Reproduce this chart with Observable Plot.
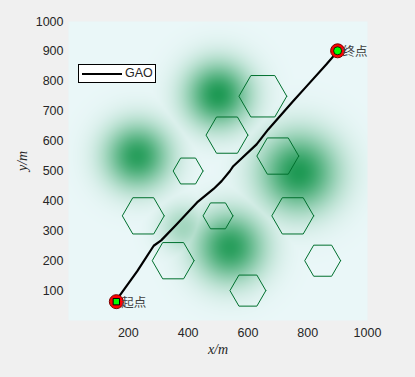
<!DOCTYPE html>
<html>
<head>
<meta charset="utf-8">
<script src="https://cdn.jsdelivr.net/npm/d3@7"></script>
<script src="https://cdn.jsdelivr.net/npm/@observablehq/plot@0.6"></script>
<style>
  html, body { margin: 0; padding: 0; background: #f0f0f0; }
  #wrap { position: relative; width: 415px; height: 377px; }
  #legend { position: absolute; left: 78px; top: 64px; width: 78px; height: 19px;
    background: #fff; border: 1px solid #000; box-sizing: border-box;
    font: 12.5px "Liberation Sans", Arial, sans-serif; color: #262626; }
  #legend .ln { position: absolute; left: 3px; top: 7.5px; width: 40px; height: 2.5px; background: #000; }
  #legend .tx { position: absolute; left: 46px; top: 1px; }
</style>
</head>
<body>
<div id="wrap"><div id="chart"></div>
<div id="legend"><div class="ln"></div><div class="tx">GAO</div></div></div>
<script>
// threat blobs (gaussian peaks)
const blobX = [500, 230, 770, 540, 385];
const blobY = [755, 550, 495, 245, 310];
const blobS = [75, 75, 90, 80, 55];
const blobA = [1.0, 0.95, 1.0, 0.95, 0.35];

// hexagonal obstacles
const hexX = [650, 530, 700, 400, 250, 500, 750, 350, 850, 600];
const hexY = [750, 620, 550, 500, 350, 350, 350, 200, 200, 100];
const hexR = [80, 70, 70, 50, 70, 50, 70, 70, 60, 60];

// GAO path
const pathX = [160, 165, 230, 285, 310, 362, 430, 485, 512, 540, 551, 629, 668, 751, 796, 862, 900];
const pathY = [63, 75, 165, 250, 268, 322, 395, 440, 466, 500, 516, 589, 639, 733, 783, 856, 900];

const startPt = {x: 160, y: 63, label: "起点"};
const endPt = {x: 900, y: 902, label: "终点"};

const xTicks = [200, 400, 600, 800, 1000];
const yTicks = [100, 200, 300, 400, 500, 600, 700, 800, 900, 1000];

const field = (x, y) => {
  let v = 0;
  for (let i = 0; i < blobX.length; i++) {
    const d2 = (x - blobX[i]) ** 2 + (y - blobY[i]) ** 2;
    v = Math.max(v, blobA[i] * Math.exp(-d2 / (2 * blobS[i] ** 2)));
  }
  return v;
};

const hexPts = [];
hexX.forEach((cx, i) => {
  for (let k = 0; k <= 6; k++) {
    const a = k * Math.PI / 3;
    hexPts.push({id: i, x: cx + hexR[i] * Math.cos(a), y: hexY[i] + hexR[i] * Math.sin(a)});
  }
});
const path = pathX.map((x, i) => ({x, y: pathY[i]}));
const fmt = d3.format("d");

const chart = Plot.plot({
  width: 415, height: 377,
  marginLeft: 68, marginRight: 48, marginTop: 21, marginBottom: 57,
  style: {background: "transparent", fontFamily: "'Liberation Sans', Arial, sans-serif", fontSize: "12.5px", color: "#262626"},
  x: {domain: [0, 1000], label: null, axis: null},
  y: {domain: [0, 1000], label: null, axis: null},
  color: {type: "linear", domain: [0, 1], range: ["#eaf7f8", "#1f9a55"]},
  marks: [
    Plot.raster({x1: 0, x2: 1000, y1: 0, y2: 1000, fill: field, pixelSize: 1}),
    Plot.line(hexPts, {x: "x", y: "y", z: "id", stroke: "#00702e", strokeWidth: 1}),
    Plot.line(path, {x: "x", y: "y", stroke: "#000", strokeWidth: 2.2}),
    Plot.dot([startPt, endPt], {x: "x", y: "y", r: 7, fill: "#ff0000", stroke: "#7a0000", strokeWidth: 1}),
    Plot.dot([startPt], {x: "x", y: "y", symbol: "square", r: 3.6, fill: "#00ff00", stroke: "#000", strokeWidth: 1}),
    Plot.dot([endPt], {x: "x", y: "y", r: 4, fill: "#00ff00", stroke: "#000", strokeWidth: 0.8}),
    Plot.text([startPt, endPt], {x: "x", y: "y", text: "label", textAnchor: "start", dx: 5, dy: 1, fill: "#404040", fontSize: 12.5, fontFamily: "'Noto Sans CJK SC', sans-serif"}),
    Plot.axisX({ticks: xTicks, tickSize: 0, tickPadding: 8, tickFormat: fmt, label: null}),
    Plot.axisY({ticks: yTicks, tickSize: 0, tickPadding: 5, tickFormat: fmt, label: null}),
    Plot.text(["x/m"], {frameAnchor: "bottom", dy: 33, text: d => d, fontStyle: "italic", fontFamily: "'Liberation Serif', 'Times New Roman', serif", fontSize: 14, fill: "#262626"}),
    Plot.text(["y/m"], {frameAnchor: "left", dx: -46, rotate: -90, text: d => d, fontStyle: "italic", fontFamily: "'Liberation Serif', 'Times New Roman', serif", fontSize: 14, fill: "#262626"})
  ]
});
document.getElementById("chart").appendChild(chart);
</script>
</body>
</html>
